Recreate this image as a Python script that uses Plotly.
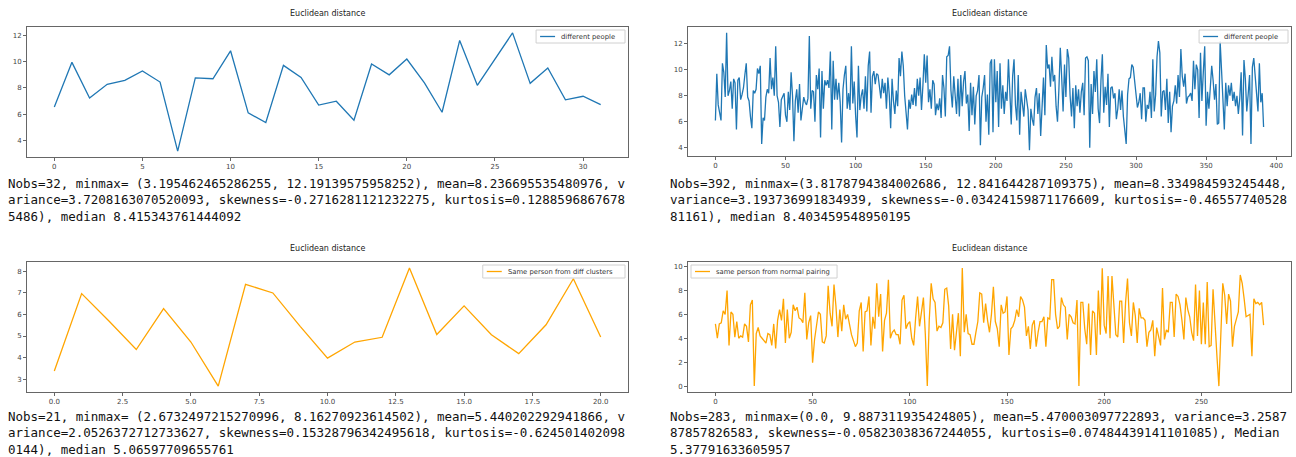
import plotly.graph_objects as go

W, H = 1296, 457

# ---------------- data ----------------
tl_values = [6.55, 9.95, 7.24, 8.28, 8.58, 9.3, 8.45, 3.195, 8.76, 8.7,
             10.83, 6.1, 5.37, 9.72, 8.8, 6.7, 6.99, 5.54, 9.82, 9.0,
             10.2, 8.38, 6.15, 11.62, 8.2, 10.2, 12.19, 8.35, 9.52, 7.1,
             7.37, 6.73]

bl_values = [3.37, 6.97, 5.7, 4.37, 6.27, 4.72, 2.673, 7.4, 7.0, 5.45,
             3.97, 4.72, 4.94, 8.163, 5.07, 6.4, 5.06, 4.18, 5.52, 7.66,
             4.95]

tr_values = [
    6.1, 9.7, 7.3, 6.8, 6.1, 10.5, 9.8, 7.9, 12.84, 8.0,
    8.4, 9.1, 7.0, 9.3, 9.0, 5.4, 9.2, 9.4, 7.7, 8.1,
    8.6, 9.6, 10.5, 7.9, 7.6, 6.4, 5.5, 8.4, 8.2, 8.5,
    10.1, 9.7, 10.3, 4.3, 6.3, 6.1, 7.9, 8.5, 8.2, 10.9,
    8.5, 9.4, 8.0, 11.8, 8.0, 7.5, 5.6, 7.7, 7.9, 8.2,
    6.5, 6.0, 8.3, 6.9, 9.8, 8.0, 4.5, 7.6, 8.5, 6.7,
    8.9, 6.1, 7.0, 7.9, 7.5, 7.3, 7.8, 12.6, 7.0, 8.4,
    8.3, 6.0, 9.6, 8.5, 10.1, 4.8, 9.9, 7.0, 9.2, 8.8,
    9.2, 8.6, 11.4, 5.4, 10.7, 7.7, 9.3, 7.7, 9.0, 7.5,
    4.4, 8.5, 9.6, 10.3, 7.0, 8.2, 6.9, 11.8, 7.4, 9.1,
    6.5, 4.8, 10.3, 6.9, 8.0, 8.5, 7.0, 9.5, 6.8, 10.3,
    11.4, 6.7, 9.5, 9.9, 8.9, 9.7, 9.6, 8.6, 7.8, 9.3,
    8.2, 9.0, 7.0, 9.4, 8.1, 5.5, 9.3, 7.6, 6.6, 8.4,
    7.2, 10.9, 9.5, 11.4, 10.3, 8.0, 6.5, 5.4, 7.7, 7.0,
    8.1, 7.3, 8.6, 7.2, 9.3, 8.0, 9.4, 6.9, 8.8, 11.2,
    9.0, 11.1, 7.5, 8.5, 7.0, 9.2, 8.9, 6.5, 7.4, 6.9,
    7.8, 6.3, 9.6, 8.6, 6.4, 11.0, 11.1, 11.8, 8.4, 7.1,
    9.5, 8.0, 6.6, 9.3, 6.4, 9.6, 7.2, 9.1, 9.9, 7.4,
    8.1, 5.3, 9.0, 6.5, 8.7, 5.8, 8.0, 8.4, 9.6, 4.2,
    7.9, 8.6, 9.6, 6.0, 8.1, 5.0, 10.5, 10.8, 5.2, 10.8,
    7.5, 9.9, 5.6, 10.5, 7.0, 8.8, 6.6, 8.3, 7.6, 10.8,
    7.4, 5.8, 9.5, 10.8, 7.3, 6.1, 9.6, 5.0, 8.3, 7.2,
    6.4, 8.5, 7.7, 6.9, 3.818, 7.0, 6.2, 5.7, 7.9, 8.6,
    6.6, 8.2, 4.9, 7.9, 9.4, 6.5, 11.9, 10.1, 10.4, 8.7,
    11.0, 9.1, 9.6, 7.2, 6.0, 8.5, 11.7, 9.4, 6.8, 10.4,
    7.9, 11.6, 10.9, 8.0, 6.4, 8.6, 5.5, 8.8, 7.2, 8.5,
    6.7, 8.3, 9.0, 6.5, 10.9, 11.0, 10.7, 4.0, 8.9, 6.6,
    9.9, 8.3, 10.8, 7.0, 5.9, 9.2, 11.2, 6.7, 8.7, 7.3,
    9.7, 5.6, 8.6, 8.7, 7.8, 8.2, 6.2, 7.0, 8.5, 6.9,
    8.4, 6.4, 5.3, 4.3, 8.1, 9.3, 9.4, 10.4, 10.2, 9.1,
    8.2, 7.1, 7.5, 8.2, 6.2, 8.6, 8.6, 6.0, 7.3, 7.0,
    8.3, 6.3, 10.8, 6.8, 8.1, 11.0, 12.2, 11.3, 6.4, 8.3,
    8.4, 6.9, 9.3, 5.9, 8.3, 5.2, 7.2, 7.6, 8.8, 7.4,
    9.6, 7.9, 11.6, 9.5, 8.7, 9.7, 7.4, 7.9, 8.0, 8.2,
    7.6, 10.7, 8.5, 10.4, 10.0, 6.3, 11.3, 7.6, 9.8, 11.8,
    5.7, 8.3, 7.0, 8.5, 10.3, 9.2, 7.7, 8.9, 5.8, 5.9,
    12.2, 10.0, 7.6, 5.4, 9.0, 7.2, 8.8, 8.0, 9.0, 7.6,
    8.3, 7.2, 8.0, 6.6, 7.8, 9.8, 4.95, 10.75, 9.3, 6.8,
    8.1, 9.6, 4.3, 10.2, 10.9, 9.5, 7.6, 6.8, 10.5, 7.5,
    8.2, 5.6,
]

br_values = [
    5.2, 4.0, 5.2, 5.3, 6.3, 6.0, 8.0, 3.4, 6.2, 6.0,
    4.1, 5.4, 4.0, 4.2, 4.1, 5.2, 5.0, 3.7, 6.8, 7.2,
    0.0, 4.4, 4.9, 4.2, 4.0, 3.8, 3.6, 4.4, 4.3, 3.4,
    5.2, 3.15, 5.5, 6.4, 5.5, 7.3, 3.6, 6.4, 4.0, 4.5,
    6.8, 6.3, 6.6, 5.7, 5.6, 5.3, 7.8, 3.9, 5.3, 5.9,
    1.95, 3.9, 5.0, 6.2, 6.0, 3.7, 3.6, 4.2, 8.4, 6.1,
    5.0, 8.5, 6.7, 4.1, 6.4, 4.6, 6.8, 5.6, 6.0, 5.0,
    4.3, 3.8, 3.3, 3.6, 6.3, 7.0, 2.9, 6.2, 6.3, 7.5,
    3.4, 5.8, 4.8, 8.6, 5.8, 7.7, 2.9, 5.5, 6.1, 8.9,
    4.0, 4.5, 4.7, 4.3, 4.3, 3.5, 7.2, 7.6, 4.8, 5.2,
    5.4, 4.0, 3.4, 5.7, 7.5, 5.0, 6.1, 7.4, 4.3, 0.0,
    5.5, 8.6, 7.3, 7.0, 4.6, 5.0, 4.9, 5.3, 8.1, 8.2,
    6.7, 3.1, 6.0, 3.0, 4.5, 6.1, 2.5, 9.887, 4.5, 6.0,
    4.4, 4.3, 3.5, 3.5, 4.5, 5.4, 7.8, 7.7, 5.3, 6.9,
    5.5, 4.5, 6.0, 8.3, 5.4, 4.8, 3.3, 6.8, 6.1, 6.2,
    7.5, 2.6, 4.8, 5.0, 5.5, 6.4, 5.8, 7.5, 7.2, 6.6,
    4.2, 5.0, 3.1, 5.1, 5.5, 3.3, 4.5, 5.4, 5.4, 5.8,
    3.3, 5.7, 5.6, 8.9, 8.9, 6.0, 4.8, 5.0, 7.4, 6.8,
    6.6, 3.9, 6.0, 5.8, 5.3, 5.2, 7.2, 0.0, 7.0, 7.0,
    4.8, 3.5, 6.9, 2.6, 6.3, 6.1, 2.6, 8.0, 4.3, 9.85,
    5.1, 4.4, 9.2, 4.0, 9.2, 6.2, 4.3, 4.1, 7.1, 7.1,
    3.6, 7.0, 9.0, 5.3, 4.2, 7.0, 5.9, 3.6, 6.5, 5.7,
    5.7, 5.5, 3.3, 4.5, 4.7, 5.5, 2.5, 4.9, 4.2, 3.4,
    8.2, 3.9, 4.7, 4.5, 7.0, 7.0, 4.1, 7.7, 7.5, 6.8,
    5.5, 3.9, 7.4, 6.4, 5.8, 4.5, 3.8, 8.5, 4.2, 8.0,
    3.5, 7.0, 3.5, 8.7, 3.3, 3.4, 8.1, 4.8, 2.5, 0.0,
    4.2, 8.6, 7.6, 5.2, 7.7, 7.1, 3.3, 5.0, 5.6, 6.2,
    9.3, 8.6, 7.3, 5.8, 5.9, 6.0, 2.5, 7.3, 6.9, 7.0,
    6.8, 7.0, 5.1,
]

series_names = ["different people", "different people",
                "Same person from diff clusters", "same person from normal pairing"]
chart_title = "Euclidean distance"

tl_text = ("Nobs=32, minmax= (3.195462465286255, 12.19139575958252), mean=8.236695535480976, v<br>"
           "ariance=3.7208163070520093, skewness=-0.2716281121232275, kurtosis=0.1288596867678<br>"
           "5486), median 8.415343761444092")
tr_text = ("Nobs=392, minmax=(3.8178794384002686, 12.841644287109375), mean=8.334984593245448,<br>"
           "variance=3.193736991834939, skewness=-0.03424159871176609, kurtosis=-0.46557740528<br>"
           "81161), median 8.403459548950195")
bl_text = ("Nobs=21, minmax= (2.6732497215270996, 8.16270923614502), mean=5.440202292941866, v<br>"
           "ariance=2.0526372712733627, skewness=0.15328796342495618, kurtosis=-0.624501402098<br>"
           "0144), median 5.06597709655761")
br_text = ("Nobs=283, minmax=(0.0, 9.887311935424805), mean=5.470003097722893, variance=3.2587<br>"
           "87857826583, skewness=-0.05823038367244055, kurtosis=0.07484439141101085), Median<br>"
           "5.37791633605957")

BLUE = "#1f77b4"
ORANGE = "#ffa500"
LEG_FONT = 6.8

# panel geometry in pixels: (x0, x1, y0_top, y1_bottom)
panels = [
    dict(vals=tl_values, name=series_names[0], color=BLUE, box=(27, 628, 27, 157),
         dx=5, dy=2, fmt="d", leg_pos="right", text=tl_text, tx=6, ty=174),
    dict(vals=tr_values, name=series_names[1], color=BLUE, box=(688, 1291, 27, 156),
         dx=50, dy=2, fmt="d", leg_pos="right", text=tr_text, tx=668, ty=174),
    dict(vals=bl_values, name=series_names[2], color=ORANGE, box=(27, 628, 262, 392),
         dx=2.5, dy=1, fmt=".1f", leg_pos="right", text=bl_text, tx=6, ty=407),
    dict(vals=br_values, name=series_names[3], color=ORANGE, box=(688, 1291, 262, 392),
         dx=50, dy=2, fmt="d", leg_pos="left", text=br_text, tx=668, ty=407),
]

fig = go.Figure()
layout = dict(width=W, height=H, margin=dict(l=0, r=0, t=0, b=0),
              paper_bgcolor="white", plot_bgcolor="white", annotations=[], shapes=[],
              showlegend=False)


def px_x(v):
    return v / W


def px_y(v):
    return 1 - v / H


for i, p in enumerate(panels):
    n = i + 1
    xa = "x" if n == 1 else f"x{n}"
    ya = "y" if n == 1 else f"y{n}"
    vals = p["vals"]
    xs = list(range(len(vals)))
    fig.add_trace(go.Scatter(x=xs, y=vals, mode="lines", name=p["name"],
                             line=dict(color=p["color"], width=1.3),
                             xaxis=xa, yaxis=ya))
    x0, x1, y0, y1 = p["box"]
    xmin, xmax = 0, len(vals) - 1
    ymin, ymax = min(vals), max(vals)
    padx = 0.05 * (xmax - xmin)
    pady = 0.05 * (ymax - ymin)
    axis_common = dict(showline=True, mirror=True, linecolor="#666666", linewidth=1,
                       showgrid=False, zeroline=False, ticks="outside", ticklen=3,
                       tickcolor="#666666", tickfont=dict(family="DejaVu Sans", size=7, color="#444444"))
    layout["xaxis" if n == 1 else f"xaxis{n}"] = dict(
        domain=[x0 / W, x1 / W], anchor=ya, range=[xmin - padx, xmax + padx],
        dtick=p["dx"], tick0=0, tickformat=p["fmt"], **axis_common)
    layout["yaxis" if n == 1 else f"yaxis{n}"] = dict(
        domain=[1 - y1 / H, 1 - y0 / H], anchor=xa, range=[ymin - pady, ymax + pady],
        dtick=p["dy"], tick0=0, **axis_common)

    # compact matplotlib-style legend
    text_w = 0.56 * LEG_FONT * len(p["name"])
    lw = 4 + 15 + 4 + text_w + 5
    lh = 13
    ltop = y0 + 3
    lleft = (x1 - 3 - lw) if p["leg_pos"] == "right" else (x0 + 3)
    layout["shapes"].append(dict(
        type="rect", xref="paper", yref="paper", layer="above",
        x0=px_x(lleft), x1=px_x(lleft + lw), y0=px_y(ltop + lh), y1=px_y(ltop),
        fillcolor="rgba(255,255,255,0.85)", line=dict(color="#d0d0d0", width=1)))
    layout["shapes"].append(dict(
        type="line", xref="paper", yref="paper", layer="above",
        x0=px_x(lleft + 4), x1=px_x(lleft + 19), y0=px_y(ltop + lh / 2), y1=px_y(ltop + lh / 2),
        line=dict(color=p["color"], width=1.3)))
    layout["annotations"].append(dict(
        text=p["name"], x=px_x(lleft + 23), y=px_y(ltop + lh / 2), xref="paper", yref="paper",
        xanchor="left", yanchor="middle", showarrow=False,
        font=dict(family="DejaVu Sans", size=LEG_FONT, color="#333333")))

    # title
    layout["annotations"].append(dict(
        text=chart_title, x=(x0 + x1) / 2 / W, y=px_y(y0 - 14), xref="paper", yref="paper",
        xanchor="center", yanchor="middle", showarrow=False,
        font=dict(family="DejaVu Sans", size=8, color="#222222")))
    # stats text
    layout["annotations"].append(dict(
        text=p["text"], x=p["tx"] / W, y=px_y(p["ty"]), xref="paper", yref="paper",
        xanchor="left", yanchor="top", align="left", showarrow=False,
        font=dict(family="DejaVu Sans Mono", size=12.5, color="#111111")))

fig.update_layout(**layout)
fig.write_html("out.html")
